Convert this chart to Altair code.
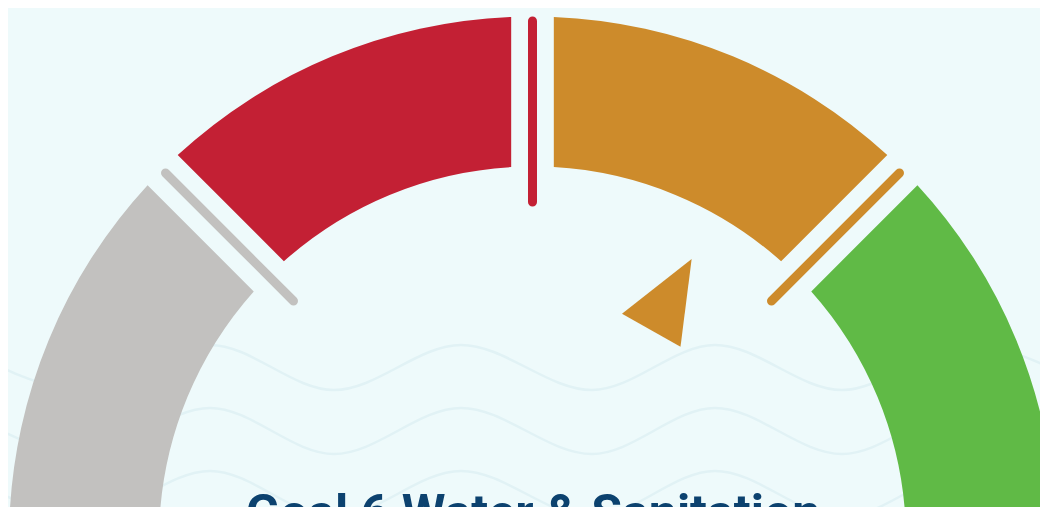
import math
import altair as alt
import pandas as pd

# ---- data ----
seg_start = [0, 25, 50, 75]
seg_end = [25, 50, 75, 100]
seg_color = ["#c2c1bf", "#c32034", "#cd8b2b", "#60ba46"]

sep_pos = [25, 50, 75]
sep_color = ["#c2c1bf", "#c32034", "#cd8b2b"]

score = [66.4]
pointer_color = ["#cd8b2b"]

title_text = ["Goal 6 Water & Sanitation"]

# decorative waves (crest / trough positions, page pixels)
wave_x = [-42, 84, 210, 334, 461, 592, 715, 842, 967, 1094]
wave_rows = {"r1": (345, 390), "r2": (408, 454), "r3": (471, 517)}

# ---- layout ----
W, H = 1032, 499
M = 8
CX, CY = 532.5 - M, 540 - M
R_OUT, R_IN = 523.5, 373.5
BG = "#eefafb"

rows = []
for name, (crest, trough) in wave_rows.items():
    for i, x in enumerate(wave_x):
        rows.append({"row": name, "wx": x - M, "wy": (crest if i % 2 == 0 else trough) - M, "i": i})
waves_df = pd.DataFrame(rows)

segs_df = pd.DataFrame({"start": seg_start, "end": seg_end, "col": seg_color})
seps_df = pd.DataFrame({"pos": sep_pos, "pos2": sep_pos, "col": sep_color})
ptr_df = pd.DataFrame({"v": score, "col": pointer_color})
title_df = pd.DataFrame({"t": title_text})

theta_scale = alt.Scale(domain=[0, 100], range=[-math.pi / 2, math.pi / 2], nice=False, zero=False)

waves = alt.Chart(waves_df).mark_line(
    interpolate="monotone", stroke="#e1f2f5", strokeWidth=2.5
).encode(
    x=alt.X("wx:Q", scale=None),
    y=alt.Y("wy:Q", scale=None),
    detail="row:N",
    order="i:Q",
)

segs = alt.Chart(segs_df).mark_arc(
    radius=R_OUT, radius2=R_IN, padAngle=0.0663
).encode(
    theta=alt.Theta("start:Q", scale=theta_scale, stack=None),
    theta2="end:Q",
    fill=alt.Fill("col:N", scale=None),
    x=alt.value(CX),
    y=alt.value(CY),
)

seps = alt.Chart(seps_df).mark_arc(
    radius=519, radius2=338, strokeWidth=9, strokeJoin="round", strokeCap="round", fillOpacity=0
).encode(
    theta=alt.Theta("pos:Q", scale=theta_scale, stack=None),
    theta2="pos2:Q",
    stroke=alt.Stroke("col:N", scale=None),
    x=alt.value(CX),
    y=alt.value(CY),
)

R_PTR = 282
pointer = alt.Chart(ptr_df).transform_calculate(
    a="PI*(1-datum.v/100)"
).transform_calculate(
    px=f"{CX}+{R_PTR}*cos(datum.a)",
    py=f"{CY}-{R_PTR}*sin(datum.a)",
    ang="1.8*datum.v-90",
).mark_point(
    shape="M0,-1L0.82,1L-0.82,1Z", filled=True, size=6724, opacity=1, strokeWidth=0
).encode(
    x=alt.X("px:Q", scale=None),
    y=alt.Y("py:Q", scale=None),
    angle=alt.Angle("ang:Q", scale=None),
    fill=alt.Fill("col:N", scale=None),
)

title = alt.Chart(title_df).mark_text(
    font="Roboto", fontSize=50, fontWeight="bold", color="#0c426f",
    align="center", baseline="alphabetic"
).encode(
    text="t:N",
    x=alt.value(CX + 0.5),
    y=alt.value(529.5 - M),
)

chart = alt.layer(waves, segs, seps, pointer, title).properties(
    width=W, height=H, background=BG, padding=0, autosize="none"
).configure_view(stroke=None, fill=BG)

chart.save("out.html", embed_options={"renderer": "svg", "actions": False})
